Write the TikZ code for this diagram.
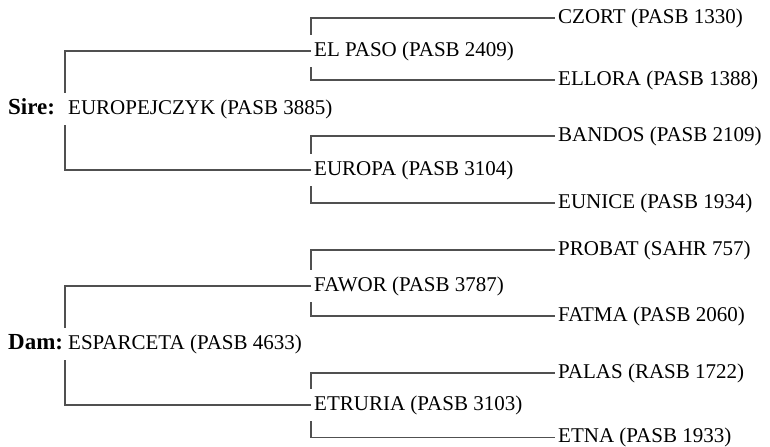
\documentclass[tikz,border=0pt]{standalone}
\usepackage{fontspec}
\setmainfont{Liberation Serif}
\usepackage{tikz}
\definecolor{linegray}{RGB}{80,80,80}

\begin{document}
\begin{tikzpicture}[
    x=1bp, y=-1bp,
    horse/.style={anchor=west, inner sep=3bp, minimum height=32bp, font=\fontsize{21bp}{24bp}\selectfont},
    role/.style={anchor=west, inner sep=0pt, font=\fontsize{23bp}{26bp}\selectfont\bfseries},
    link/.style={draw=linegray, line width=1.1bp}
]
\useasboundingbox (0,0) rectangle (770,447);

% Sire side
\node[role] (sirelab) at (8, 107) {Sire:};
\node[horse] (sire) at (65, 109) {EUROPEJCZYK (PASB 3885)};
\node[horse] (elpaso) at (311, 51) {EL PASO (PASB 2409)};
\node[horse] (europa) at (311, 170) {EUROPA (PASB 3104)};
\node[horse] (czort) at (555, 18) {CZORT (PASB 1330)};
\node[horse] (ellora) at (555, 80) {ELLORA (PASB 1388)};
\node[horse] (bandos) at (555, 136) {BANDOS (PASB 2109)};
\node[horse] (eunice) at (555, 203) {EUNICE (PASB 1934)};

% Dam side
\node[role] (damlab) at (8, 342) {Dam:};
\node[horse] (dam) at (65, 344) {ESPARCETA (PASB 4633)};
\node[horse] (fawor) at (311, 286) {FAWOR (PASB 3787)};
\node[horse] (etruria) at (311, 405) {ETRURIA (PASB 3103)};
\node[horse] (probat) at (555, 250) {PROBAT (SAHR 757)};
\node[horse] (fatma) at (555, 316) {FATMA (PASB 2060)};
\node[horse] (palas) at (555, 373) {PALAS (RASB 1722)};
\node[horse] (etna) at (555, 437.5) {ETNA (PASB 1933)};

% brackets
\draw[link] (sire.north west) |- (elpaso.west);
\draw[link] (sire.south west) |- (europa.west);
\draw[link] (elpaso.north west) |- (czort.west);
\draw[link] (elpaso.south west) |- (ellora.west);
\draw[link] (europa.north west) |- (bandos.west);
\draw[link] (europa.south west) |- (eunice.west);

\draw[link] (dam.north west) |- (fawor.west);
\draw[link] (dam.south west) |- (etruria.west);
\draw[link] (fawor.north west) |- (probat.west);
\draw[link] (fawor.south west) |- (fatma.west);
\draw[link] (etruria.north west) |- (palas.west);
\draw[link] (etruria.south west) |- (etna.west);

\end{tikzpicture}
\end{document}
